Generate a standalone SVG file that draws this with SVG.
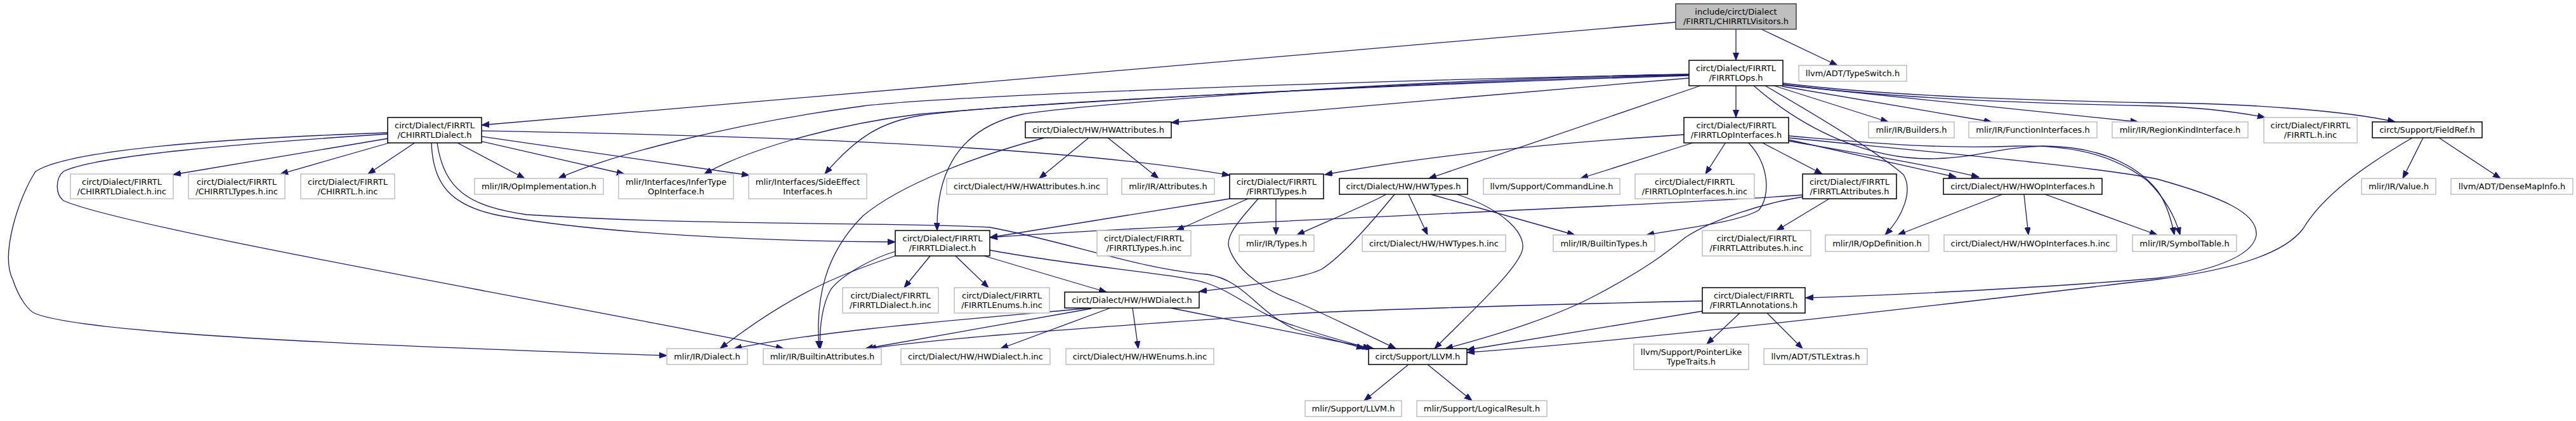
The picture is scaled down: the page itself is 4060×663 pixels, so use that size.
<svg xmlns="http://www.w3.org/2000/svg" width="4060" height="663" viewBox="0 0 4060 663">
<style>
.bg{fill:#ffffff}
rect.k{fill:#ffffff;stroke:#000000;stroke-width:1.5}
rect.g{fill:#ffffff;stroke:#bfbfbf;stroke-width:1.5}
rect.r{fill:#bfbfbf;stroke:#404040;stroke-width:1.5}
text{font-family:"DejaVu Sans","Liberation Sans",sans-serif;font-size:13px;fill:#000000;text-anchor:middle}
.edges path{fill:none;stroke:#191970;stroke-width:1.3;marker-end:url(#ah)}
</style>
<defs>
<marker id="ah" markerUnits="userSpaceOnUse" markerWidth="13" markerHeight="10" refX="12" refY="4.5" orient="auto">
<path d="M0,0 L12,4.5 L0,9 z" fill="#191970" stroke="#191970" stroke-width="1"/>
</marker>
</defs>
<rect class="bg" x="0" y="0" width="4060" height="663"/>
<g class="edges" id="edges">
<path d="M2736,46 L2736,95"/>
<path d="M2776,46 L2896,103"/>
<path d="M2641,35 C2300,65 1200,160 759,197"/>
<path d="M612,218 L273,275"/>
<path d="M617,224 L442,274"/>
<path d="M655,224 L580,274"/>
<path d="M611,209 C350,218 110,235 56,270 C30,310 0,400 20,440 C30,470 45,490 56,494 C150,530 700,548 1051,560"/>
<path d="M611,211 C380,226 150,245 100,270 C88,280 86,305 100,316 C200,360 900,480 1235,549"/>
<path d="M721,225 L827,281"/>
<path d="M760,223 L984,274"/>
<path d="M760,215 L1181,276"/>
<path d="M760,206 C1100,212 1650,225 1938,276"/>
<path d="M680,225 C682,290 710,325 790,340 C950,368 1200,380 1411,381"/>
<path d="M689,225 C700,300 740,325 830,338 C1100,356 1450,350 1560,358 C1680,380 1800,425 1902,432 C1960,440 1980,490 2040,518 C2080,530 2120,540 2150,549"/>
<path d="M2736,135 L2736,185"/>
<path d="M2662,117 C2200,125 1500,150 1360,167 C1150,195 960,245 880,281"/>
<path d="M2662,118 C2250,128 1600,165 1447,180 C1300,198 1170,240 1110,274"/>
<path d="M2662,119 C2250,132 1600,160 1450,182 C1390,192 1350,215 1300,274"/>
<path d="M2662,123 L1846,193"/>
<path d="M2662,117 C2200,125 1700,165 1611,180 C1520,200 1475,260 1477,363"/>
<path d="M2680,135 L2252,281"/>
<path d="M2796,135 L2976,192"/>
<path d="M2809,136 L3139,192"/>
<path d="M2811,134 L3370,192"/>
<path d="M2810,133 C3000,158 3300,165 3400,167 C3480,170 3530,177 3570,185"/>
<path d="M2810,131 C3000,155 3300,160 3400,162 C3550,163 3700,175 3775,192"/>
<path d="M2764,135 C2850,210 2950,250 3041,250 C3110,250 3150,232 3220,230 C3320,230 3375,268 3400,300 C3415,320 3422,345 3427,370"/>
<path d="M2782,135 C2860,180 2960,240 3000,275 C3015,300 3000,340 2971,370"/>
<path d="M2720,224 L2688,274"/>
<path d="M2671,224 L2491,281"/>
<path d="M2654,212 C2450,225 2250,245 2088,275"/>
<path d="M2776,224 L2872,274"/>
<path d="M2819,220 L3083,279"/>
<path d="M2819,222 C2950,245 3050,262 3119,279"/>
<path d="M2755,224 C2790,260 2790,310 2772,331 C2740,350 2650,360 2595,370"/>
<path d="M2819,214 C2950,225 3050,235 3180,230 C3280,228 3340,250 3385,285 C3410,310 3428,340 3436,370"/>
<path d="M2819,217 C3050,240 3300,262 3400,282 C3500,310 3560,335 3556,371 C3550,405 3480,428 3400,438 C3200,455 2950,466 2846,469"/>
<path d="M2883,313 L2800,363"/>
<path d="M2841,307 C2600,325 1900,350 1560,374"/>
<path d="M2841,310 C2780,320 2700,345 2656,374 C2630,395 2600,420 2517,464 C2450,500 2350,530 2278,549"/>
<path d="M3156,306 L2991,370"/>
<path d="M3190,306 L3197,370"/>
<path d="M3223,306 L3400,370"/>
<path d="M3819,217 L3787,281"/>
<path d="M3844,217 L3941,281"/>
<path d="M3802,217 C3720,265 3660,310 3630,360 C3600,400 3520,425 3400,440 C3100,475 2600,535 2312,555"/>
<path d="M2742,493 L2690,542"/>
<path d="M2785,493 L2841,549"/>
<path d="M2683,490 L2312,551"/>
<path d="M2683,474 C2400,480 2100,490 2040,494 C1800,510 1500,530 1369,549"/>
<path d="M1716,217 L1638,281"/>
<path d="M1746,217 L1826,281"/>
<path d="M1646,217 C1540,245 1420,290 1360,340 C1300,400 1285,470 1291,549"/>
<path d="M1938,313 L1560,374"/>
<path d="M1967,313 L1854,363"/>
<path d="M1983,313 C1960,340 1930,370 1937,390 C1950,430 2000,460 2040,474 C2100,500 2160,530 2200,549"/>
<path d="M2011,313 L2011,370"/>
<path d="M2185,306 C2160,320 2100,345 2044,370"/>
<path d="M2198,306 C2170,340 2120,400 2083,424 C2050,440 1950,452 1890,459"/>
<path d="M2220,306 L2250,370"/>
<path d="M2255,306 L2482,370"/>
<path d="M2296,306 C2370,330 2410,370 2398,398 C2385,430 2320,490 2261,549"/>
<path d="M1466,403 L1425,453"/>
<path d="M1506,403 L1558,453"/>
<path d="M1551,403 L1744,460"/>
<path d="M1560,394 C1700,420 1850,430 1902,446 C1950,462 1980,495 2040,513 C2080,527 2120,538 2160,549"/>
<path d="M1411,403 C1330,430 1250,460 1135,549"/>
<path d="M1411,396 C1380,405 1330,430 1310,455 C1295,480 1291,520 1293,549"/>
<path d="M1720,485 C1500,505 1300,520 1157,549"/>
<path d="M1720,486 L1364,549"/>
<path d="M1750,485 L1577,549"/>
<path d="M1785,485 L1794,549"/>
<path d="M1845,485 L2165,549"/>
<path d="M2220,574 L2150,631"/>
<path d="M2250,574 L2320,631"/>
</g>
<g id="n_root"><rect class="r" x="2641" y="6" width="190" height="40"/><text x="2736" y="23">include/circt/Dialect</text><text x="2736" y="38">/FIRRTL/CHIRRTLVisitors.h</text></g>
<g id="n_firrtlops"><rect class="k" x="2662" y="95" width="148" height="40"/><text x="2736" y="112">circt/Dialect/FIRRTL</text><text x="2736" y="127">/FIRRTLOps.h</text></g>
<g id="n_typeswitch"><rect class="g" x="2835" y="103" width="170" height="25"/><text x="2920" y="120">llvm/ADT/TypeSwitch.h</text></g>
<g id="n_chirrtldialect"><rect class="k" x="611" y="185" width="148" height="40"/><text x="685" y="202">circt/Dialect/FIRRTL</text><text x="685" y="217">/CHIRRTLDialect.h</text></g>
<g id="n_hwattributes"><rect class="k" x="1616" y="192" width="230" height="25"/><text x="1731" y="209">circt/Dialect/HW/HWAttributes.h</text></g>
<g id="n_firrtlopinterfaces"><rect class="k" x="2654" y="185" width="165" height="40"/><text x="2736.5" y="202">circt/Dialect/FIRRTL</text><text x="2736.5" y="217">/FIRRTLOpInterfaces.h</text></g>
<g id="n_builders"><rect class="g" x="2945" y="192" width="135" height="25"/><text x="3012.5" y="209">mlir/IR/Builders.h</text></g>
<g id="n_funcif"><rect class="g" x="3103" y="192" width="202" height="25"/><text x="3204" y="209">mlir/IR/FunctionInterfaces.h</text></g>
<g id="n_regionkind"><rect class="g" x="3329" y="192" width="214" height="25"/><text x="3436" y="209">mlir/IR/RegionKindInterface.h</text></g>
<g id="n_firrtlhinc"><rect class="g" x="3568" y="185" width="147" height="40"/><text x="3641.5" y="202">circt/Dialect/FIRRTL</text><text x="3641.5" y="217">/FIRRTL.h.inc</text></g>
<g id="n_fieldref"><rect class="k" x="3739" y="192" width="173" height="25"/><text x="3825.5" y="209">circt/Support/FieldRef.h</text></g>
<g id="n_chdinc"><rect class="g" x="111" y="274" width="162" height="39"/><text x="192" y="291">circt/Dialect/FIRRTL</text><text x="192" y="306">/CHIRRTLDialect.h.inc</text></g>
<g id="n_chtinc"><rect class="g" x="297" y="274" width="152" height="39"/><text x="373" y="291">circt/Dialect/FIRRTL</text><text x="373" y="306">/CHIRRTLTypes.h.inc</text></g>
<g id="n_chinc"><rect class="g" x="474" y="274" width="148" height="39"/><text x="548" y="291">circt/Dialect/FIRRTL</text><text x="548" y="306">/CHIRRTL.h.inc</text></g>
<g id="n_opimpl"><rect class="g" x="748" y="281" width="203" height="25"/><text x="849.5" y="298">mlir/IR/OpImplementation.h</text></g>
<g id="n_infertype"><rect class="g" x="975" y="274" width="181" height="39"/><text x="1065.5" y="291">mlir/Interfaces/InferType</text><text x="1065.5" y="306">OpInterface.h</text></g>
<g id="n_sideeffect"><rect class="g" x="1180" y="274" width="186" height="39"/><text x="1273" y="291">mlir/Interfaces/SideEffect</text><text x="1273" y="306">Interfaces.h</text></g>
<g id="n_hwattrinc"><rect class="g" x="1492" y="281" width="253" height="25"/><text x="1618.5" y="298">circt/Dialect/HW/HWAttributes.h.inc</text></g>
<g id="n_attributes"><rect class="g" x="1768" y="281" width="146" height="25"/><text x="1841" y="298">mlir/IR/Attributes.h</text></g>
<g id="n_firrtltypes"><rect class="k" x="1938" y="274" width="148" height="39"/><text x="2012" y="291">circt/Dialect/FIRRTL</text><text x="2012" y="306">/FIRRTLTypes.h</text></g>
<g id="n_hwtypes"><rect class="k" x="2111" y="281" width="202" height="25"/><text x="2212" y="298">circt/Dialect/HW/HWTypes.h</text></g>
<g id="n_commandline"><rect class="g" x="2338" y="281" width="215" height="25"/><text x="2445.5" y="298">llvm/Support/CommandLine.h</text></g>
<g id="n_opifinc"><rect class="g" x="2577" y="274" width="188" height="39"/><text x="2671" y="291">circt/Dialect/FIRRTL</text><text x="2671" y="306">/FIRRTLOpInterfaces.h.inc</text></g>
<g id="n_firrtlattributes"><rect class="k" x="2841" y="274" width="148" height="39"/><text x="2915" y="291">circt/Dialect/FIRRTL</text><text x="2915" y="306">/FIRRTLAttributes.h</text></g>
<g id="n_hwopif"><rect class="k" x="3063" y="281" width="250" height="25"/><text x="3188" y="298">circt/Dialect/HW/HWOpInterfaces.h</text></g>
<g id="n_value"><rect class="g" x="3722" y="281" width="117" height="25"/><text x="3780.5" y="298">mlir/IR/Value.h</text></g>
<g id="n_densemap"><rect class="g" x="3863" y="281" width="192" height="25"/><text x="3959" y="298">llvm/ADT/DenseMapInfo.h</text></g>
<g id="n_firrtldialect"><rect class="k" x="1411" y="363" width="149" height="40"/><text x="1485.5" y="380">circt/Dialect/FIRRTL</text><text x="1485.5" y="395">/FIRRTLDialect.h</text></g>
<g id="n_firrtltypesinc"><rect class="g" x="1729" y="363" width="148" height="40"/><text x="1803" y="380">circt/Dialect/FIRRTL</text><text x="1803" y="395">/FIRRTLTypes.h.inc</text></g>
<g id="n_types"><rect class="g" x="1953" y="370" width="118" height="26"/><text x="2012" y="387.5">mlir/IR/Types.h</text></g>
<g id="n_hwtypesinc"><rect class="g" x="2147" y="370" width="226" height="26"/><text x="2260" y="387.5">circt/Dialect/HW/HWTypes.h.inc</text></g>
<g id="n_builtintypes"><rect class="g" x="2448" y="370" width="160" height="26"/><text x="2528" y="387.5">mlir/IR/BuiltinTypes.h</text></g>
<g id="n_firrtlattrinc"><rect class="g" x="2683" y="363" width="171" height="40"/><text x="2768.5" y="380">circt/Dialect/FIRRTL</text><text x="2768.5" y="395">/FIRRTLAttributes.h.inc</text></g>
<g id="n_opdef"><rect class="g" x="2877" y="370" width="163" height="26"/><text x="2958.5" y="387.5">mlir/IR/OpDefinition.h</text></g>
<g id="n_hwopifinc"><rect class="g" x="3064" y="370" width="272" height="26"/><text x="3200" y="387.5">circt/Dialect/HW/HWOpInterfaces.h.inc</text></g>
<g id="n_symboltable"><rect class="g" x="3361" y="370" width="164" height="26"/><text x="3443" y="387.5">mlir/IR/SymbolTable.h</text></g>
<g id="n_firrtldialectinc"><rect class="g" x="1328" y="453" width="151" height="40"/><text x="1403.5" y="470">circt/Dialect/FIRRTL</text><text x="1403.5" y="485">/FIRRTLDialect.h.inc</text></g>
<g id="n_firrtlenumsinc"><rect class="g" x="1504" y="453" width="150" height="40"/><text x="1579" y="470">circt/Dialect/FIRRTL</text><text x="1579" y="485">/FIRRTLEnums.h.inc</text></g>
<g id="n_hwdialect"><rect class="k" x="1678" y="460" width="212" height="25"/><text x="1784" y="477">circt/Dialect/HW/HWDialect.h</text></g>
<g id="n_annotations"><rect class="k" x="2683" y="453" width="162" height="40"/><text x="2764" y="470">circt/Dialect/FIRRTL</text><text x="2764" y="485">/FIRRTLAnnotations.h</text></g>
<g id="n_dialect"><rect class="g" x="1051" y="549" width="127" height="25"/><text x="1114.5" y="566">mlir/IR/Dialect.h</text></g>
<g id="n_builtinattr"><rect class="g" x="1203" y="549" width="186" height="25"/><text x="1296" y="566">mlir/IR/BuiltinAttributes.h</text></g>
<g id="n_hwdialectinc"><rect class="g" x="1420" y="549" width="235" height="25"/><text x="1537.5" y="566">circt/Dialect/HW/HWDialect.h.inc</text></g>
<g id="n_hwenumsinc"><rect class="g" x="1680" y="549" width="233" height="25"/><text x="1796.5" y="566">circt/Dialect/HW/HWEnums.h.inc</text></g>
<g id="n_llvm"><rect class="k" x="2157" y="549" width="155" height="25"/><text x="2234.5" y="566">circt/Support/LLVM.h</text></g>
<g id="n_pointerlike"><rect class="g" x="2575" y="542" width="181" height="40"/><text x="2665.5" y="559">llvm/Support/PointerLike</text><text x="2665.5" y="574">TypeTraits.h</text></g>
<g id="n_stlextras"><rect class="g" x="2780" y="549" width="163" height="25"/><text x="2861.5" y="566">llvm/ADT/STLExtras.h</text></g>
<g id="n_mlirllvm"><rect class="g" x="2057" y="631" width="152" height="25"/><text x="2133" y="648">mlir/Support/LLVM.h</text></g>
<g id="n_logicalresult"><rect class="g" x="2233" y="631" width="205" height="25"/><text x="2335.5" y="648">mlir/Support/LogicalResult.h</text></g>
</svg>
